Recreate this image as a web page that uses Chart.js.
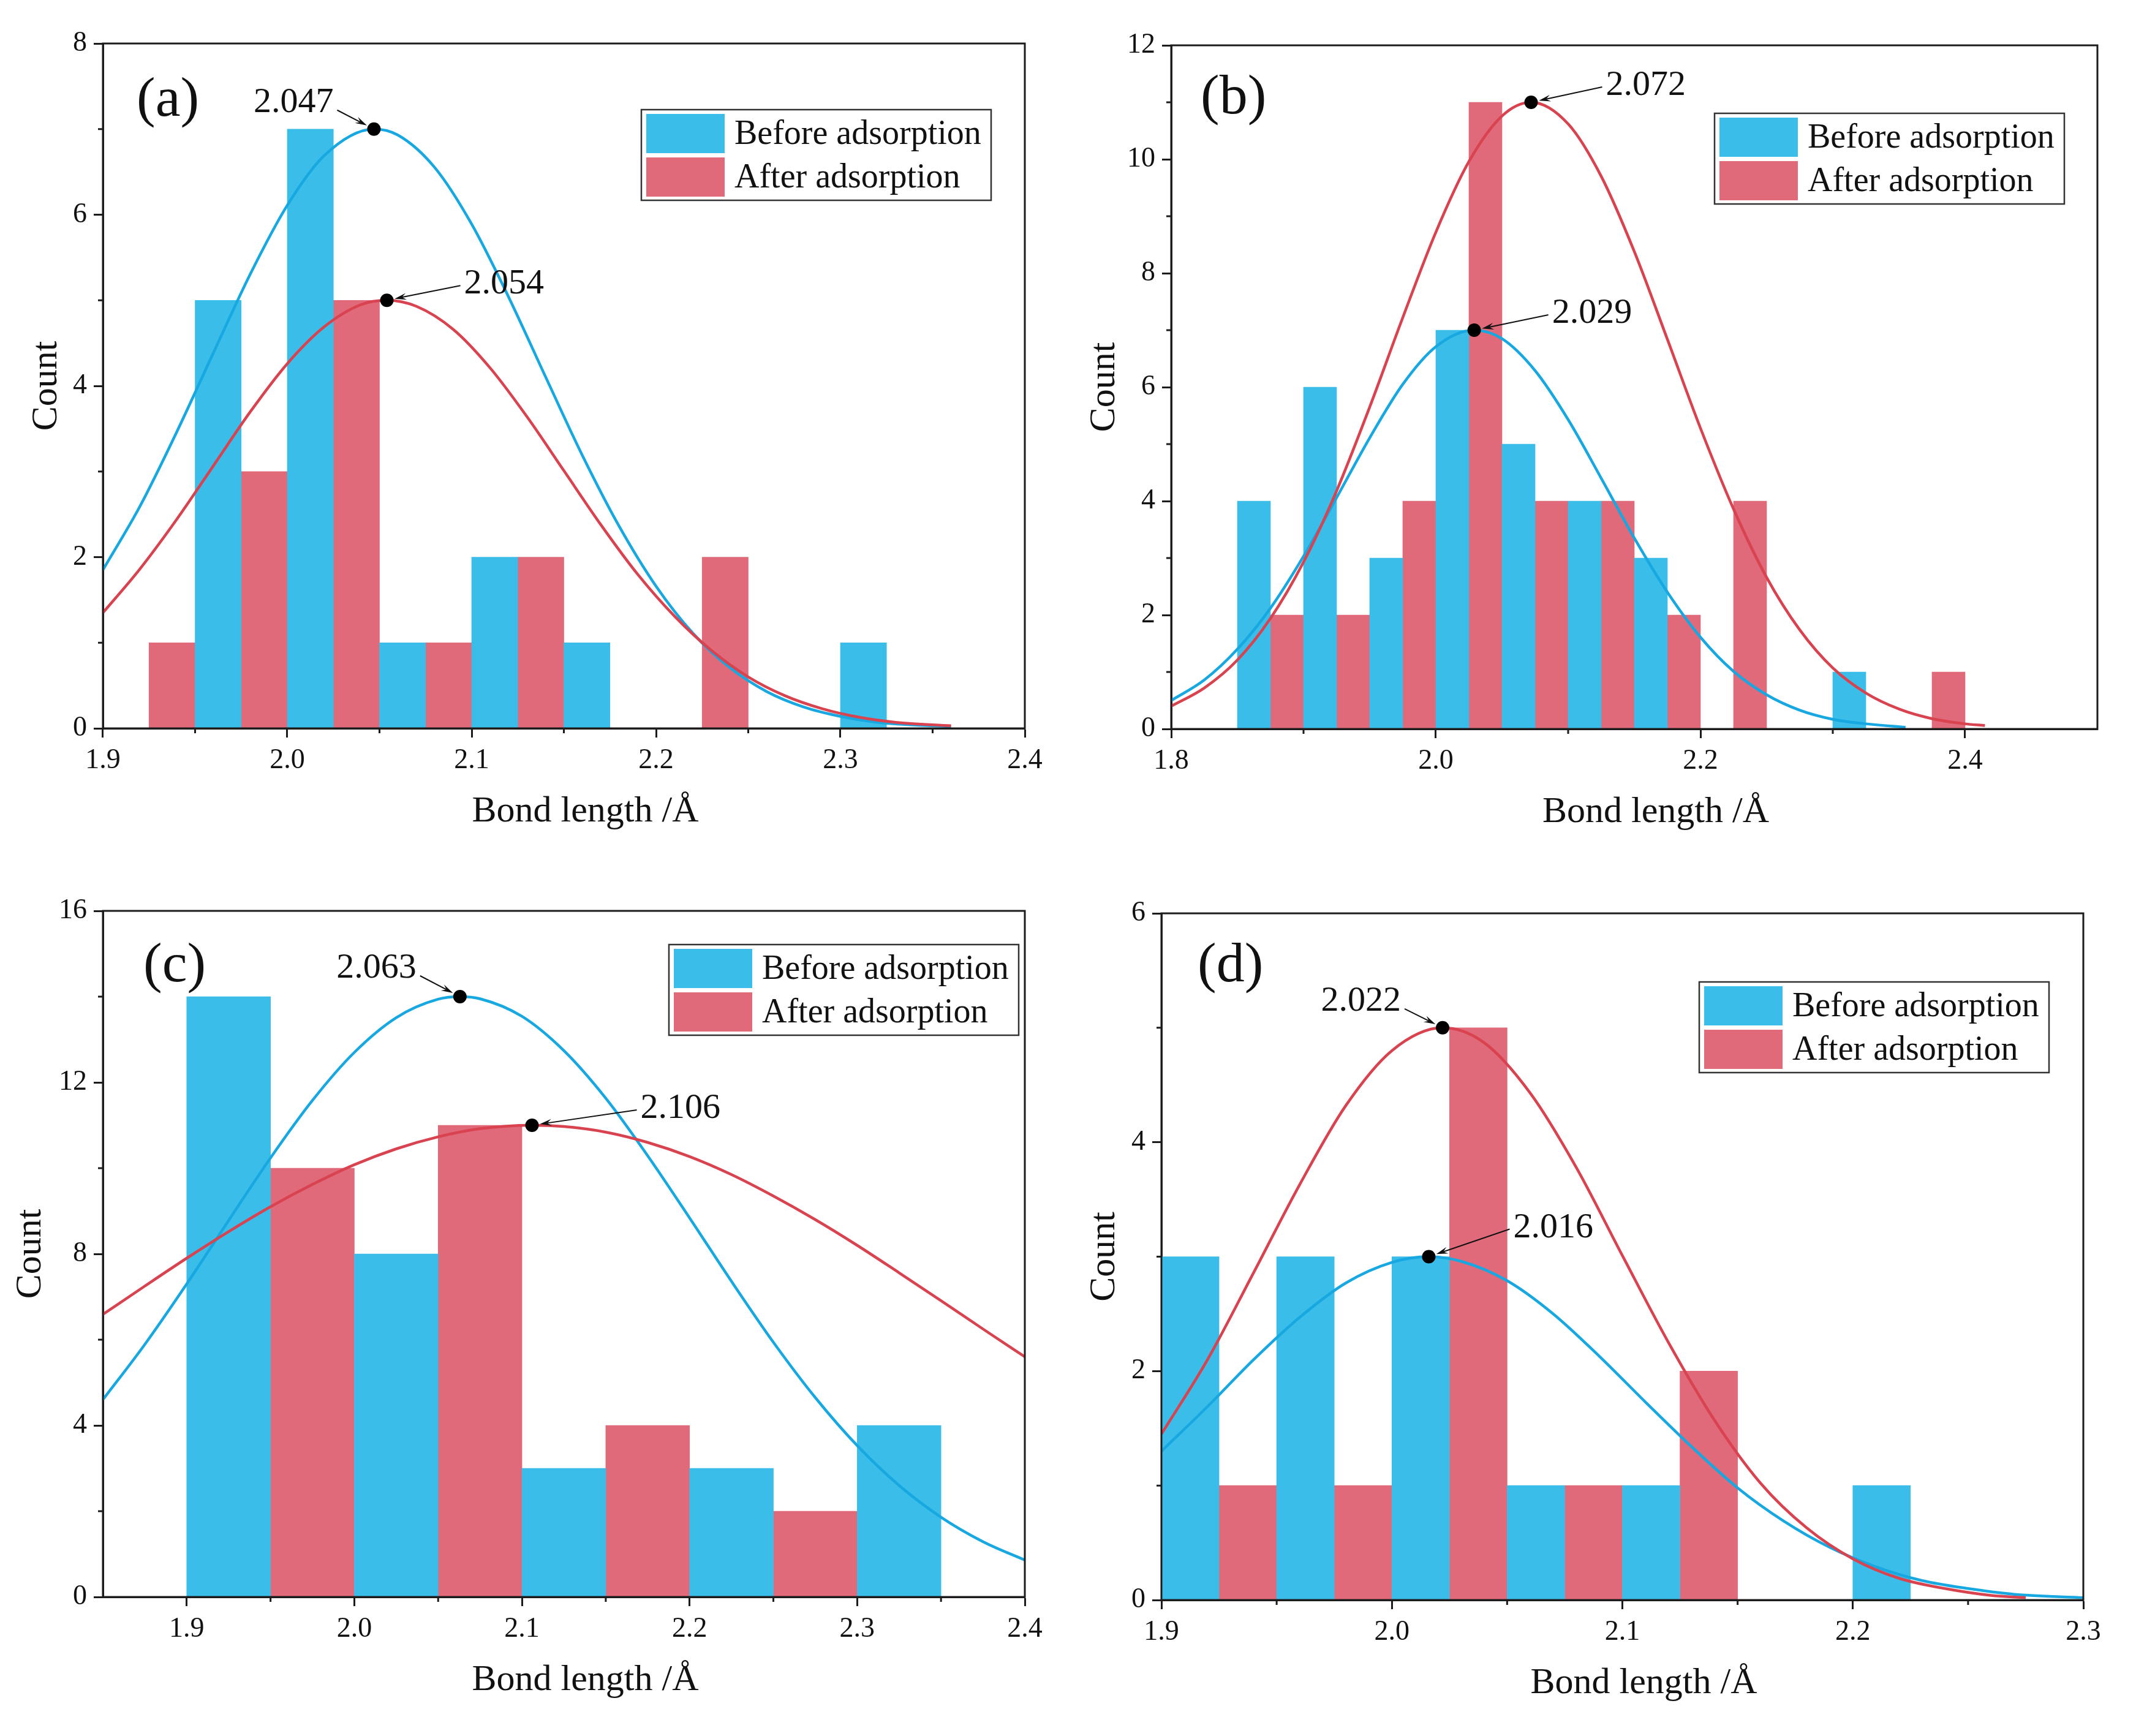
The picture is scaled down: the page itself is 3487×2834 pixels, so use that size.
<!DOCTYPE html>
<html>
<head>
<meta charset="utf-8">
<title>Bond length histograms</title>
<script src="https://cdn.jsdelivr.net/npm/chart.js@4.4.1/dist/chart.umd.min.js"></script>
<style>
  html, body { margin: 0; padding: 0; background: #fff; overflow: hidden; }
  #page { position: relative; width: 3487px; height: 2834px; background: #fff; }
  #page canvas { position: absolute; }
</style>
</head>
<body>
<div id="page">
  <canvas id="chart-a" width="1743" height="1417" style="left:0;top:0"></canvas>
  <canvas id="chart-b" width="1744" height="1417" style="left:1743px;top:0"></canvas>
  <canvas id="chart-c" width="1743" height="1417" style="left:0;top:1417px"></canvas>
  <canvas id="chart-d" width="1744" height="1417" style="left:1743px;top:1417px"></canvas>
</div>
<script>
// histogram.js — four "before / after adsorption" bond length histograms with Gaussian fits

const seriesLabels = ['Before adsorption', 'After adsorption'];
const xTitle = 'Bond length /Å';
const yTitle = 'Count';

// ---- panel (a) ----
const aBinWidth = 0.025;
const aBeforeBins = [1.95, 2.0, 2.05, 2.1, 2.15, 2.3];
const aBeforeCounts = [5, 7, 1, 2, 1, 1];
const aAfterBins = [1.925, 1.975, 2.025, 2.075, 2.125, 2.225];
const aAfterCounts = [1, 3, 5, 1, 2, 2];
const aBeforeFitX = [1.90, 1.92, 1.94, 1.96, 1.98, 2.00, 2.02, 2.047, 2.06, 2.08, 2.10, 2.12, 2.14, 2.16, 2.18, 2.20, 2.22, 2.24, 2.26, 2.28, 2.30, 2.32, 2.34, 2.36];
const aBeforeFitY = [1.85, 2.59, 3.46, 4.39, 5.31, 6.11, 6.69, 7.00, 6.93, 6.55, 5.89, 5.04, 4.11, 3.19, 2.36, 1.66, 1.11, 0.71, 0.43, 0.25, 0.14, 0.07, 0.04, 0.02];
const aAfterFitX = [1.90, 1.92, 1.94, 1.96, 1.98, 2.00, 2.02, 2.04, 2.054, 2.07, 2.09, 2.11, 2.13, 2.15, 2.17, 2.19, 2.21, 2.23, 2.25, 2.27, 2.29, 2.31, 2.33, 2.36];
const aAfterFitY = [1.35, 1.86, 2.44, 3.07, 3.70, 4.26, 4.69, 4.95, 5.00, 4.93, 4.66, 4.21, 3.64, 3.01, 2.38, 1.80, 1.31, 0.91, 0.60, 0.38, 0.23, 0.13, 0.07, 0.03];
const aPeaks = [2.047, 2.054];
const aPeakCounts = [7, 5];
const aXTicks = [1.9, 2.0, 2.1, 2.2, 2.3, 2.4];
const aYTicks = [0, 2, 4, 6, 8];

// ---- panel (b) ----
const bBinWidth = 0.025;
const bBeforeBins = [1.85, 1.9, 1.95, 2.0, 2.05, 2.1, 2.15, 2.3];
const bBeforeCounts = [4, 6, 3, 7, 5, 4, 3, 1];
const bAfterBins = [1.875, 1.925, 1.975, 2.025, 2.075, 2.125, 2.175, 2.225, 2.375];
const bAfterCounts = [2, 2, 4, 11, 4, 4, 2, 4, 1];
const bBeforeFitX = [1.800, 1.825, 1.850, 1.875, 1.900, 1.925, 1.950, 1.975, 2.000, 2.029, 2.050, 2.075, 2.100, 2.125, 2.150, 2.175, 2.200, 2.225, 2.250, 2.275, 2.300, 2.325, 2.355];
const bBeforeFitY = [0.50, 0.86, 1.40, 2.12, 3.03, 4.06, 5.11, 6.05, 6.71, 7.00, 6.85, 6.29, 5.43, 4.40, 3.35, 2.40, 1.61, 1.01, 0.60, 0.33, 0.17, 0.09, 0.03];
const bAfterFitX = [1.800, 1.825, 1.850, 1.875, 1.900, 1.925, 1.950, 1.975, 2.000, 2.025, 2.050, 2.072, 2.100, 2.125, 2.150, 2.175, 2.200, 2.225, 2.250, 2.275, 2.300, 2.325, 2.350, 2.375, 2.400, 2.415];
const bAfterFitY = [0.40, 0.72, 1.21, 1.94, 2.93, 4.18, 5.65, 7.22, 8.72, 9.96, 10.76, 11.00, 10.62, 9.70, 8.38, 6.84, 5.28, 3.86, 2.66, 1.74, 1.07, 0.63, 0.35, 0.18, 0.09, 0.06];
const bPeaks = [2.029, 2.072];
const bPeakCounts = [7, 11];
const bXTicks = [1.8, 2.0, 2.2, 2.4];
const bYTicks = [0, 2, 4, 6, 8, 10, 12];

// ---- panel (c) ----
const cBinWidth = 0.05;
const cBeforeBins = [1.9, 2.0, 2.1, 2.2, 2.3];
const cBeforeCounts = [14, 8, 3, 3, 4];
const cAfterBins = [1.95, 2.05, 2.15, 2.25];
const cAfterCounts = [10, 11, 4, 2];
const cBeforeFitX = [1.850, 1.875, 1.900, 1.925, 1.950, 1.975, 2.000, 2.025, 2.050, 2.063, 2.075, 2.100, 2.125, 2.150, 2.175, 2.200, 2.225, 2.250, 2.275, 2.300, 2.325, 2.350, 2.375, 2.400];
const cBeforeFitY = [4.60, 5.89, 7.30, 8.78, 10.24, 11.58, 12.70, 13.51, 13.94, 14.00, 13.95, 13.54, 12.74, 11.63, 10.29, 8.84, 7.36, 5.94, 4.65, 3.53, 2.60, 1.86, 1.29, 0.86];
const cAfterFitX = [1.850, 1.875, 1.900, 1.925, 1.950, 1.975, 2.000, 2.025, 2.050, 2.075, 2.106, 2.125, 2.150, 2.175, 2.200, 2.225, 2.250, 2.275, 2.300, 2.325, 2.350, 2.375, 2.400];
const cAfterFitY = [6.59, 7.25, 7.90, 8.52, 9.10, 9.62, 10.08, 10.45, 10.73, 10.92, 11.00, 10.97, 10.84, 10.60, 10.27, 9.85, 9.35, 8.80, 8.20, 7.56, 6.91, 6.25, 5.60];
const cPeaks = [2.063, 2.106];
const cPeakCounts = [14, 11];
const cXTicks = [1.9, 2.0, 2.1, 2.2, 2.3, 2.4];
const cYTicks = [0, 4, 8, 12, 16];

// ---- panel (d) ----
const dBinWidth = 0.025;
const dBeforeBins = [1.9, 1.95, 2.0, 2.05, 2.1, 2.2];
const dBeforeCounts = [3, 3, 3, 1, 1, 1];
const dAfterBins = [1.925, 1.975, 2.025, 2.075, 2.125];
const dAfterCounts = [1, 1, 5, 1, 2];
const dBeforeFitX = [1.90, 1.92, 1.94, 1.96, 1.98, 2.00, 2.016, 2.03, 2.05, 2.07, 2.09, 2.11, 2.13, 2.15, 2.17, 2.19, 2.21, 2.23, 2.25, 2.27, 2.30];
const dBeforeFitY = [1.30, 1.69, 2.10, 2.47, 2.77, 2.95, 3.00, 2.96, 2.79, 2.50, 2.13, 1.73, 1.34, 0.98, 0.69, 0.46, 0.29, 0.17, 0.10, 0.05, 0.02];
const dAfterFitX = [1.90, 1.92, 1.94, 1.96, 1.98, 2.00, 2.022, 2.04, 2.06, 2.08, 2.10, 2.12, 2.14, 2.16, 2.18, 2.20, 2.22, 2.24, 2.26, 2.275];
const dAfterFitY = [1.45, 2.10, 2.86, 3.63, 4.32, 4.80, 5.00, 4.87, 4.43, 3.78, 3.01, 2.25, 1.57, 1.02, 0.63, 0.36, 0.19, 0.10, 0.04, 0.02];
const dPeaks = [2.016, 2.022];
const dPeakCounts = [3, 5];
const dXTicks = [1.9, 2.0, 2.1, 2.2, 2.3];
const dYTicks = [0, 2, 4, 6];

// styles
const BAR_BLUE = '#3ABDE8';
const BAR_RED = '#E0697A';
const LINE_BLUE = '#17A8E1';
const LINE_RED = '#D9424F';
const AXIS = '#1c1c1c';
const SERIF = "'Liberation Serif', 'Times New Roman', serif";

// per panel layout (pixels, relative to the canvas / plot area)
const panels = [
  {
    canvas: 'chart-a', tag: '(a)', xMin: 1.85 + 0.05, xMax: 2.4,
    binWidth: aBinWidth, before: [aBeforeBins, aBeforeCounts], after: [aAfterBins, aAfterCounts],
    fitBefore: [aBeforeFitX, aBeforeFitY], fitAfter: [aAfterFitX, aAfterFitY],
    peaks: aPeaks, peakCounts: aPeakCounts, xTicks: aXTicks, yTicks: aYTicks,
    pad: { left: 68, top: 71, right: 70, bottom: 148 },
    countDx: -92, tagPos: [55, 94], legendPos: [-55, 108],
    notes: [{ dx: -66, dy: -43, align: 'right' }, { dx: 126, dy: -26, align: 'left' }]
  },
  {
    canvas: 'chart-b', tag: '(b)', xMin: 1.8, xMax: 2.5,
    binWidth: bBinWidth, before: [bBeforeBins, bBeforeCounts], after: [bAfterBins, bAfterCounts],
    fitBefore: [bBeforeFitX, bBeforeFitY], fitAfter: [bAfterFitX, bAfterFitY],
    peaks: bPeaks, peakCounts: bPeakCounts, xTicks: bXTicks, yTicks: bYTicks,
    pad: { left: 69, top: 74, right: 63, bottom: 147 },
    countDx: -109, tagPos: [48, 87], legendPos: [-54, 111],
    notes: [{ dx: 127, dy: -27, align: 'left' }, { dx: 122, dy: -27, align: 'left' }]
  },
  {
    canvas: 'chart-c', tag: '(c)', xMin: 1.85, xMax: 2.4,
    binWidth: cBinWidth, before: [cBeforeBins, cBeforeCounts], after: [cAfterBins, cAfterCounts],
    fitBefore: [cBeforeFitX, cBeforeFitY], fitAfter: [cAfterFitX, cAfterFitY],
    peaks: cPeaks, peakCounts: cPeakCounts, xTicks: cXTicks, yTicks: cYTicks,
    pad: { left: 68, top: 70, right: 70, bottom: 147 },
    countDx: -118, tagPos: [66, 91], legendPos: [-10, 55],
    notes: [{ dx: -71, dy: -46, align: 'right' }, { dx: 177, dy: -27, align: 'left' }]
  },
  {
    canvas: 'chart-d', tag: '(d)', xMin: 1.9, xMax: 2.3,
    binWidth: dBinWidth, before: [dBeforeBins, dBeforeCounts], after: [dAfterBins, dAfterCounts],
    fitBefore: [dBeforeFitX, dBeforeFitY], fitAfter: [dAfterFitX, dAfterFitY],
    peaks: dPeaks, peakCounts: dPeakCounts, xTicks: dXTicks, yTicks: dYTicks,
    pad: { left: 53, top: 74, right: 86, bottom: 142 },
    countDx: -93, tagPos: [59, 87], legendPos: [-56, 112],
    notes: [{ dx: 138, dy: -47, align: 'left' }, { dx: -68, dy: -43, align: 'right' }]
  }
];

/**
 * Draw a thin arrow with a filled head ending at (x1, y1)
 */
function drawArrow(ctx, x0, y0, x1, y1) {
  const ang = Math.atan2(y1 - y0, x1 - x0);
  const head = 20;
  ctx.beginPath();
  ctx.moveTo(x0, y0);
  ctx.lineTo(x1 - Math.cos(ang) * head * 0.6, y1 - Math.sin(ang) * head * 0.6);
  ctx.stroke();
  ctx.beginPath();
  ctx.moveTo(x1, y1);
  ctx.lineTo(x1 - head * Math.cos(ang - 0.28), y1 - head * Math.sin(ang - 0.28));
  ctx.lineTo(x1 - head * 0.6 * Math.cos(ang), y1 - head * 0.6 * Math.sin(ang));
  ctx.lineTo(x1 - head * Math.cos(ang + 0.28), y1 - head * Math.sin(ang + 0.28));
  ctx.closePath();
  ctx.fill();
}

/**
 * Frame, minor ticks, axis titles, legend, panel tag and peak labels
 */
function decorPlugin(p) {
  return {
    id: 'decor',
    afterDatasetsDraw(chart) {
      const { ctx, chartArea: a, scales } = chart;
      ctx.save();
      ctx.strokeStyle = AXIS;
      ctx.lineWidth = 3;
      ctx.strokeRect(a.left, a.top, a.right - a.left, a.bottom - a.top);

      // minor ticks halfway between labelled ticks
      ctx.beginPath();
      for (let i = 1; i < p.xTicks.length; i++) {
        const x = scales.x.getPixelForValue((p.xTicks[i - 1] + p.xTicks[i]) / 2);
        ctx.moveTo(x, a.bottom);
        ctx.lineTo(x, a.bottom + 8);
      }
      for (let i = 1; i < p.yTicks.length; i++) {
        const y = scales.y.getPixelForValue((p.yTicks[i - 1] + p.yTicks[i]) / 2);
        ctx.moveTo(a.left, y);
        ctx.lineTo(a.left - 8, y);
      }
      ctx.stroke();
      ctx.restore();
    },
    afterDraw(chart) {
      const { ctx, chartArea: a, scales } = chart;
      ctx.save();
      ctx.fillStyle = '#111';

      // axis titles
      ctx.font = `60px ${SERIF}`;
      ctx.textAlign = 'center';
      ctx.textBaseline = 'middle';
      ctx.fillText(xTitle, (a.left + a.right) / 2 + 35, a.bottom + 136);
      ctx.save();
      ctx.translate(a.left + p.countDx, (a.top + a.bottom) / 2);
      ctx.rotate(-Math.PI / 2);
      ctx.fillText(yTitle, 0, 0);
      ctx.restore();

      // panel tag
      ctx.font = `92px ${SERIF}`;
      ctx.textAlign = 'left';
      ctx.fillText(p.tag, a.left + p.tagPos[0], a.top + p.tagPos[1]);

      // legend box
      const lw = 571, lh = 148;
      const lx = a.right + p.legendPos[0] - lw;
      const ly = a.top + p.legendPos[1];
      ctx.fillStyle = '#fff';
      ctx.fillRect(lx, ly, lw, lh);
      ctx.strokeStyle = '#333';
      ctx.lineWidth = 2.5;
      ctx.strokeRect(lx, ly, lw, lh);
      [BAR_BLUE, BAR_RED].forEach((col, i) => {
        const sy = ly + 7 + i * 71;
        ctx.fillStyle = col;
        ctx.fillRect(lx + 8, sy, 128, 64);
        ctx.fillStyle = '#111';
        ctx.font = `56px ${SERIF}`;
        ctx.fillText(seriesLabels[i], lx + 152, sy + 34);
      });

      // peak labels with arrows
      ctx.font = `58px ${SERIF}`;
      ctx.strokeStyle = '#111';
      ctx.fillStyle = '#111';
      ctx.lineWidth = 2;
      p.peaks.forEach((v, i) => {
        const px = scales.x.getPixelForValue(v);
        const py = scales.y.getPixelForValue(p.peakCounts[i]);
        const n = p.notes[i];
        const tx = px + n.dx;
        const ty = py + n.dy;
        ctx.textAlign = n.align;
        ctx.fillText(v.toFixed(3), tx, ty);
        let sx, sy;
        if (n.align === 'right') { sx = tx + 6; sy = ty + 12; }
        else { sx = tx - 6; sy = ty + 2; }
        const ang = Math.atan2(py - sy, px - sx);
        drawArrow(ctx, sx, sy, px - Math.cos(ang) * 13, py - Math.sin(ang) * 13);
      });
      ctx.restore();
    }
  };
}

function barData(bins, counts, width) {
  return bins.map((b, i) => ({ x: b + width / 2, y: counts[i] }));
}

function lineData(xs, ys) {
  return xs.map((x, i) => ({ x: x, y: ys[i] }));
}

function renderPanel(p) {
  const canvas = document.getElementById(p.canvas);
  const tickFont = { family: SERIF, size: 46 };
  const yMax = p.yTicks[p.yTicks.length - 1];

  new Chart(canvas, {
    type: 'bar',
    data: {
      datasets: [
        {
          type: 'scatter',
          data: p.peaks.map((v, i) => ({ x: v, y: p.peakCounts[i] })),
          pointRadius: 11,
          pointBackgroundColor: '#000',
          pointBorderWidth: 0,
          order: 1
        },
        {
          type: 'line',
          label: seriesLabels[1] + ' fit',
          data: lineData(p.fitAfter[0], p.fitAfter[1]),
          borderColor: LINE_RED,
          borderWidth: 4.5,
          pointRadius: 0,
          cubicInterpolationMode: 'monotone',
          fill: false,
          order: 2
        },
        {
          type: 'line',
          label: seriesLabels[0] + ' fit',
          data: lineData(p.fitBefore[0], p.fitBefore[1]),
          borderColor: LINE_BLUE,
          borderWidth: 4.5,
          pointRadius: 0,
          cubicInterpolationMode: 'monotone',
          fill: false,
          order: 3
        },
        {
          type: 'bar',
          label: seriesLabels[0],
          data: barData(p.before[0], p.before[1], p.binWidth),
          backgroundColor: BAR_BLUE,
          borderWidth: 0,
          barPercentage: 1,
          categoryPercentage: 1,
          grouped: false,
          order: 4
        },
        {
          type: 'bar',
          label: seriesLabels[1],
          data: barData(p.after[0], p.after[1], p.binWidth),
          backgroundColor: BAR_RED,
          borderWidth: 0,
          barPercentage: 1,
          categoryPercentage: 1,
          grouped: false,
          order: 4
        }
      ]
    },
    options: {
      animation: false,
      responsive: false,
      devicePixelRatio: 1,
      layout: { padding: p.pad },
      plugins: { legend: { display: false }, tooltip: { enabled: false } },
      scales: {
        x: {
          type: 'linear',
          min: p.xMin,
          max: p.xMax,
          offset: false,
          grid: { drawOnChartArea: false, drawTicks: true, tickLength: 15, tickWidth: 3, tickColor: AXIS, offset: false },
          border: { display: true, color: AXIS, width: 3 },
          ticks: { font: tickFont, color: '#111', padding: 10, maxRotation: 0, autoSkip: false, callback: v => Number(v).toFixed(1) },
          afterBuildTicks: s => { s.ticks = p.xTicks.map(v => ({ value: v })); },
          afterFit: s => { s.height = 80; }
        },
        y: {
          type: 'linear',
          min: 0,
          max: yMax,
          grid: { drawOnChartArea: false, drawTicks: true, tickLength: 15, tickWidth: 3, tickColor: AXIS },
          border: { display: true, color: AXIS, width: 3 },
          ticks: { font: tickFont, color: '#111', padding: 11, autoSkip: false, callback: v => String(v) },
          afterBuildTicks: s => { s.ticks = p.yTicks.map(v => ({ value: v })); },
          afterFit: s => { s.width = 100; }
        }
      }
    },
    plugins: [decorPlugin(p)]
  });
}

panels.forEach(renderPanel);
</script>
</body>
</html>
